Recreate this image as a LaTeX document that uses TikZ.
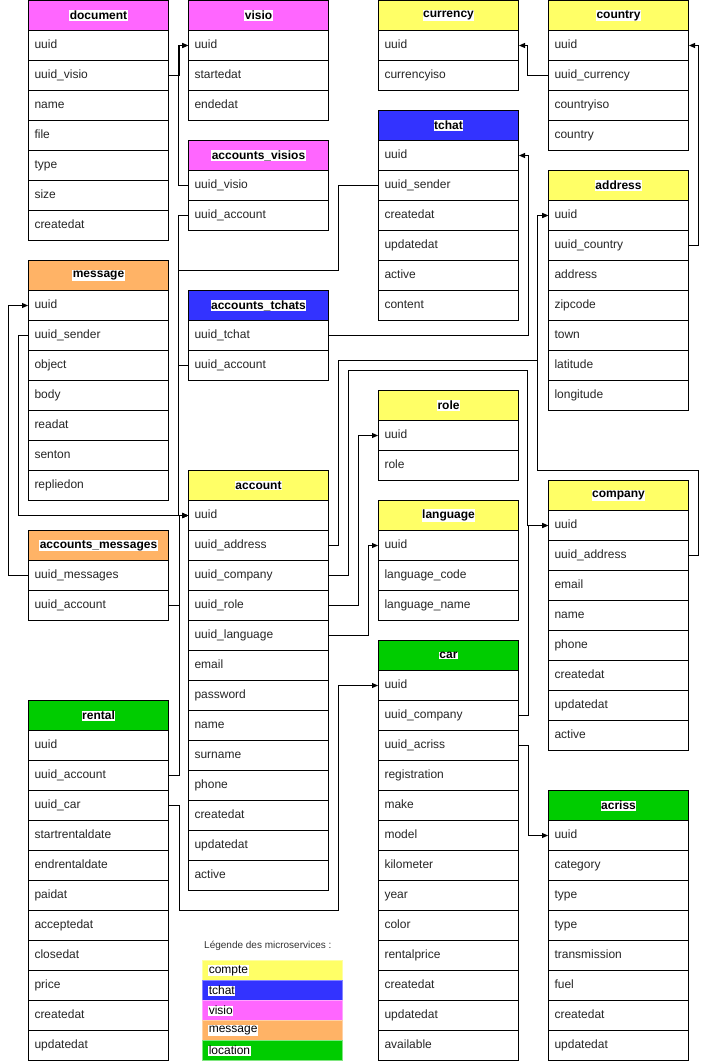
\documentclass[tikz,border=0pt]{standalone}
\usepackage{fontspec}
\setmainfont{Liberation Sans}
\usepackage{tikz}
\usetikzlibrary{arrows.meta,positioning,calc}
\definecolor{comptecol}{HTML}{FFFF66}
\definecolor{tchatcol}{HTML}{3333FF}
\definecolor{visiocol}{HTML}{FF66FF}
\definecolor{messagecol}{HTML}{FFB366}
\definecolor{locationcol}{HTML}{00CC00}

% #1 node name, #2 title, #3 colour, #4 top left corner, #5 fields
\newcommand{\dbtable}[5]{%
  \node[tblhead,fill=#3,anchor=north west](#1) at (#4) {};
  \node[tbltitle] at (#1) {#2};
  \foreach \fld [count=\k] in {#5}{
    \node[tblrow,anchor=north west](#1-\k) at ($(#4)+(0,30*\k)$) {\fld};
  }%
}

\begin{document}
\begin{tikzpicture}[
    x=1pt,y=-1pt,
    tblhead/.style={draw,line width=1pt,minimum width=140pt,
                    minimum height=30pt,inner sep=0pt},
    tbltitle/.style={fill=white,inner sep=0.6pt,
                     font=\fontsize{12}{14}\selectfont\bfseries},
    tblrow/.style={draw,line width=1pt,fill=white,minimum height=30pt,
                   text width=128pt,inner xsep=6pt,align=left,
                   text height=9pt,text depth=3pt,
                   font=\fontsize{12}{14}\selectfont,text=black!85},
    fk/.style={line width=1pt,-{Triangle[length=6pt,width=5pt]}},
    legrow/.style={minimum width=140pt,minimum height=20pt,inner sep=0pt,
                   anchor=north west,line width=1pt},
    legtext/.style={fill=white,inner sep=0.6pt,anchor=west,
                    font=\fontsize{12}{14}\selectfont},
  ]
    \useasboundingbox (0,0) rectangle (706,1062);

    \dbtable{document}{document}{visiocol}{28,0}
      {uuid,uuid\_visio,name,file,type,size,createdat}
    \dbtable{visio}{visio}{visiocol}{188,0}
      {uuid,startedat,endedat}
    \dbtable{accounts_visios}{accounts\_visios}{visiocol}{188,140}
      {uuid\_visio,uuid\_account}
    \dbtable{currency}{currency}{comptecol}{378,0}
      {uuid,currencyiso}
    \dbtable{country}{country}{comptecol}{548,0}
      {uuid,uuid\_currency,countryiso,country}
    \dbtable{tchat}{\textcolor{black}{tchat}}{tchatcol}{378,110}
      {uuid,uuid\_sender,createdat,updatedat,active,content}
    \dbtable{address}{address}{comptecol}{548,170}
      {uuid,uuid\_country,address,zipcode,town,latitude,longitude}
    \dbtable{message}{message}{messagecol}{28,260}
      {uuid,uuid\_sender,object,body,readat,senton,repliedon}
    \dbtable{accounts_tchats}{accounts\_tchats}{tchatcol}{188,290}
      {uuid\_tchat,uuid\_account}
    \dbtable{role}{role}{comptecol}{378,390}
      {uuid,role}
    \dbtable{account}{account}{comptecol}{188,470}
      {uuid,uuid\_address,uuid\_company,uuid\_role,uuid\_language,email,
       password,name,surname,phone,createdat,updatedat,active}
    \dbtable{language}{language}{comptecol}{378,500}
      {uuid,language\_code,language\_name}
    \dbtable{company}{company}{comptecol}{548,480}
      {uuid,uuid\_address,email,name,phone,createdat,updatedat,active}
    \dbtable{accounts_messages}{accounts\_messages}{messagecol}{28,530}
      {uuid\_messages,uuid\_account}
    \dbtable{car}{car}{locationcol}{378,640}
      {uuid,uuid\_company,uuid\_acriss,registration,make,model,kilometer,
       year,color,rentalprice,createdat,updatedat,available}
    \dbtable{rental}{rental}{locationcol}{28,700}
      {uuid,uuid\_account,uuid\_car,startrentaldate,endrentaldate,paidat,
       acceptedat,closedat,price,createdat,updatedat}
    \dbtable{acriss}{acriss}{locationcol}{548,790}
      {uuid,category,type,type,transmission,fuel,createdat,updatedat}

    % foreign keys
    \coordinate (acctrunk) at ($(account-1.west)+(-10,0)$);
    \draw[fk](document-2.east) -- ++(10,0) |- (visio-1.west);
    \draw[fk](accounts_visios-1.west) -- ++(-10,0) |- (visio-1.west);
    \draw[fk](accounts_visios-2.west) -- ++(-10,0) |- (account-1.west);
    \draw[fk](accounts_tchats-2.west) -- ++(-10,0) |- (account-1.west);
    \draw[fk](accounts_messages-2.east) -- ++(10,0) |- (account-1.west);
    \draw[fk](rental-2.east) -- ++(10,0) |- (account-1.west);
    \draw[fk](message-2.west) -- ++(-10,0) |- (account-1.west);
    \draw[fk](tchat-2.west) -- ++(-40,0) -- ++(0,85) -| (acctrunk)
      -- (account-1.west);
    \draw[fk](accounts_messages-1.west) -- ++(-20,0) |- (message-1.west);
    \draw[fk](country-2.west) -- ++(-21,0) |- (currency-1.east);
    \draw[fk](address-2.east) -- ++(9,0) |- (country-1.east);
    \draw[fk](accounts_tchats-1.east) -| ($(tchat-1.east)+(9,0)$)
      -- (tchat-1.east);
    \draw[fk](company-2.east) -- ++(9,0) -- ++(0,-85)
      -| ($(address-1.west)+(-11,0)$) -- (address-1.west);
    \draw[fk](account-2.east) -- ++(9,0) -- ++(0,-185)
      -| ($(address-1.west)+(-11,0)$) -- (address-1.west);
    \draw[fk](account-3.east) -- ++(19,0) -- ++(0,-205)
      -| ($(company-1.west)+(-21,0)$) -- (company-1.west);
    \draw[fk](car-2.east) -- ++(9,0) |- (company-1.west);
    \draw[fk](account-4.east) -- ++(29,0) |- (role-1.west);
    \draw[fk](account-5.east) -- ++(39,0) |- (language-1.west);
    \draw[fk](car-3.east) -- ++(9,0) |- (acriss-1.west);
    \draw[fk](rental-3.east) -- ++(10,0) -- ++(0,105)
      -| ($(car-1.west)+(-40,0)$) -- (car-1.west);

    % legend
    \node[anchor=west,inner sep=0pt,text=black!80,
          font=\fontsize{10}{12}\selectfont](legtitle) at (204,946)
      {Légende des microservices :};
    \node[legrow,fill=comptecol,draw=comptecol!60!white](leg1) at (202,960) {};
    \node[legrow,fill=tchatcol,draw=tchatcol!60!white](leg2) at (202,980) {};
    \node[legrow,fill=visiocol,draw=visiocol!60!white](leg3) at (202,1000) {};
    \node[legrow,fill=messagecol,draw=messagecol!60!white](leg4) at (202,1020) {};
    \node[legrow,fill=locationcol,draw=locationcol!50!white](leg5) at (202,1040) {};
    \node[legtext] at ($(leg1.west)+(6,0)$) {compte};
    \node[legtext] at ($(leg2.west)+(6,0)$) {tchat};
    \node[legtext] at ($(leg3.west)+(6,0)$) {visio};
    \node[legtext] at ($(leg4.west)+(6,0)$) {message};
    \node[legtext] at ($(leg5.west)+(6,0)$) {location};
  \end{tikzpicture}
\end{document}
